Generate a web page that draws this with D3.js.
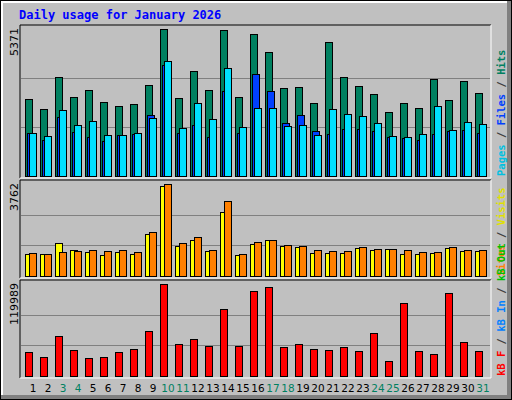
<!DOCTYPE html>
<html><head><meta charset="utf-8">
<script src="https://cdn.jsdelivr.net/npm/d3@7"></script>
<style>body{margin:0;background:#fff}svg{display:block}</style>
</head><body><div id="chart"></div>
<script>
const DAYS = d3.range(1, 32);
const WEEKEND = [3, 4, 10, 11, 17, 18, 24, 25, 31];
const HITS  = [2814,2448,3617,2887,3142,2704,2558,2631,3325,5371,2850,3837,3142,5340,2887,5189,4531,3216,3252,2667,4896,3617,3289,2996,2339,2667,2485,3544,2777,3471,3033];
const FILES = [1571,1315,2156,1608,1425,1279,1498,1535,2229,4056,1571,1864,1425,3106,1571,3727,3106,1937,2229,1644,1535,1717,1717,1644,1425,1389,1315,1535,1644,1681,1571];
const PAGES = [1571,1462,2412,1864,2010,1498,1498,1571,2119,4202,1754,2667,2083,3946,1790,2485,2485,1827,1864,1498,2448,2265,2192,1937,1462,1425,1535,2558,1681,1973,1900];
const VISITS = [900,900,1349,1063,981,859,981,900,1717,3680,1227,1472,1022,2617,859,1308,1472,1227,1186,940,940,940,1145,1063,1104,900,900,940,1145,1022,1022];
const SITES  = [940,900,981,1022,1063,1022,1063,981,1799,3762,1349,1595,1063,3067,900,1390,1472,1268,1227,1063,1022,1022,1186,1104,1104,1063,981,981,1186,1063,1063];
const KBYTES = [30653,25398,51672,33280,24084,25398,30653,34594,58241,119989,41163,47731,38535,87142,38535,110789,116044,37222,41163,34594,33280,37222,31967,55613,20143,95024,31967,29339,108161,43790,31967];

const W = 512, H = 400;
const svg = d3.select('#chart').append('svg').attr('width', W).attr('height', H);

// frame with bevel
svg.append('rect').attr('x', 0).attr('y', 0).attr('width', W).attr('height', H).attr('fill', '#000');
svg.append('rect').attr('x', 1).attr('y', 1).attr('width', W - 2).attr('height', H - 2).attr('fill', '#808080');
svg.append('rect').attr('x', 1).attr('y', 1).attr('width', W - 6).attr('height', H - 6).attr('fill', '#fff');
svg.append('rect').attr('x', 3).attr('y', 3).attr('width', W - 8).attr('height', H - 8).attr('fill', '#c0c0c0');

svg.append('text').attr('x', 19).attr('y', 19)
  .attr('font-family', 'DejaVu Sans Mono, monospace').attr('font-size', 12).attr('font-weight', 'bold')
  .attr('fill', '#0000ff').text('Daily usage for January 2026');

const x = d3.scaleBand().domain(DAYS).range([20, 485]).padding(0);

const panels = [
  { top: 25, bottom: 178, max: 5371,
    series: [{ v: HITS, c: '#008060', dx: 5 }, { v: FILES, c: '#0040ff', dx: 7 }, { v: PAGES, c: '#00e0ff', dx: 9 }],
    legend: [['Pages', '#00c0e0'], [' / ', '#404040'], ['Files', '#0040ff'], [' / ', '#404040'], ['Hits', '#008060']] },
  { top: 180, bottom: 278, max: 3762,
    series: [{ v: VISITS, c: '#ffff00', dx: 5 }, { v: SITES, c: '#ff8000', dx: 9 }],
    legend: [['Sites', '#ff8000'], [' / ', '#404040'], ['Visits', '#e0e000']] },
  { top: 280, bottom: 378, max: 119989,
    series: [{ v: KBYTES, c: '#ff0000', dx: 5 }],
    legend: [['kB F', '#ff0000'], [' / ', '#404040'], ['kB In', '#0080ff'], [' / ', '#404040'], ['kB Out', '#00c000']] }
];

panels.forEach(p => {
  const y = d3.scaleLinear().domain([0, p.max]).range([p.bottom - 2, p.top + 4]);
  svg.append('rect').attr('x', 20).attr('y', p.top).attr('width', 471).attr('height', p.bottom - p.top)
    .attr('fill', '#c0c0c0');
  svg.append('path').attr('d', `M20,${p.bottom}V${p.top}H491`).attr('stroke', '#000').attr('fill', 'none');
  svg.append('path').attr('d', `M491,${p.top}V${p.bottom}H20`).attr('stroke', '#fff').attr('fill', 'none');
  [p.max / 3, p.max * 2 / 3].forEach(g => {
    svg.append('line').attr('x1', 21).attr('x2', 490).attr('y1', Math.round(y(g)) + 0.5).attr('y2', Math.round(y(g)) + 0.5)
      .attr('stroke', '#808080');
  });
  p.series.forEach(s => {
    svg.append('g').selectAll('rect').data(DAYS).join('rect')
      .attr('x', d => x(d) + s.dx + 0.5).attr('width', 7)
      .attr('y', (d, i) => Math.round(y(s.v[i])) + 0.5)
      .attr('height', (d, i) => Math.round(y(0)) - Math.round(y(s.v[i])))
      .attr('fill', s.c).attr('stroke', '#000');
  });
  svg.append('text').attr('transform', `translate(18,${p.top + 3}) rotate(-90)`)
    .attr('text-anchor', 'end').attr('font-family', 'DejaVu Sans, sans-serif').attr('font-size', 11)
    .attr('fill', '#000').text(d3.format('d')(p.max));
  const t = svg.append('text').attr('transform', `translate(505,${p.bottom - 2}) rotate(-90)`)
    .attr('font-family', 'DejaVu Sans Mono, monospace').attr('font-size', 10.5).attr('font-weight', 'bold');
  p.legend.forEach(([s, c]) => t.append('tspan').attr('fill', c).text(s));
});

svg.append('g').selectAll('text').data(DAYS).join('text')
  .attr('x', d => x(d) + 13).attr('y', 392).attr('text-anchor', 'middle')
  .attr('font-family', 'DejaVu Sans, sans-serif').attr('font-size', 10.5)
  .attr('fill', d => WEEKEND.includes(d) ? '#008060' : '#000').text(d => d);
</script></body></html>
